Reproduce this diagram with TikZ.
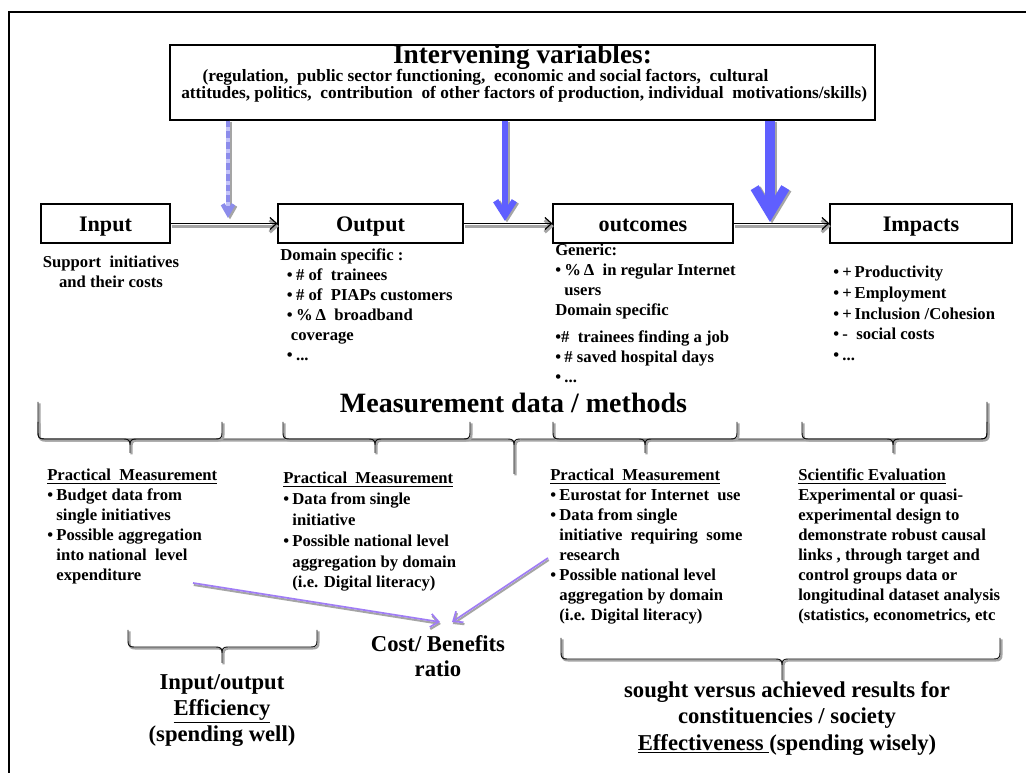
\documentclass[tikz,border=0pt]{standalone}
\usepackage{fontspec}
\setmainfont{Liberation Serif}
\usetikzlibrary{arrows.meta}
\definecolor{ivblue}{RGB}{95,95,255}
\definecolor{dblue}{RGB}{140,140,235}
\definecolor{dblueb}{RGB}{195,195,250}
\definecolor{shgray}{RGB}{165,165,165}
\definecolor{purp}{RGB}{160,125,245}
\newcommand{\bul}{•\hspace{2.5pt}}
\newcommand{\bcont}{\hphantom{•\hspace{2.5pt}}}
\newcommand{\fsz}[2]{\fontsize{#1}{#2}\selectfont\bfseries}
\newcommand{\bracepath}[6]{(#1,#3) -- (#1,#4-6) .. controls (#1,#4-1.5) and (#1+1.5,#4) .. (#1+6,#4) -- (#5-6,#4) .. controls (#5-1.5,#4) and (#5,#4+1.5) .. (#5,#4+6) -- (#5,#6) (#5,#4+6) .. controls (#5,#4+1.5) and (#5+1.5,#4) .. (#5+6,#4) -- (#2-6,#4) .. controls (#2-1.5,#4) and (#2,#4-1.5) .. (#2,#4-6) -- (#2,#3)}
\newcommand{\drawbrace}[6]{\draw[braceshadow] \bracepath{#1}{#2}{#3}{#4}{#5}{#6}; \draw[braceline] \bracepath{#1}{#2}{#3}{#4}{#5}{#6};}
\begin{document}
\begin{tikzpicture}[x=0.75pt,y=-0.75pt,
  box/.style={draw=black, line width=0.8pt, minimum height=29.25pt, inner sep=0pt, font=\fsz{16.6}{20}, text height=11.5pt, text depth=0pt},
  body/.style={inner sep=0pt, anchor=base west, font=\fsz{12.5}{15}},
  big/.style={inner sep=0pt, anchor=base, font=\fsz{17}{19.5}},
  braceshadow/.style={shgray, line width=1.6pt, shift={(1.5,1.5)}},
  braceline/.style={black, line width=0.7pt},
  harrow/.style={black, line width=0.9pt, -{Straight Barb[length=5pt,width=9pt]}},
  harrowsh/.style={shgray, line width=2.4pt, transform canvas={shift={(1pt,-2pt)}}, -{Straight Barb[length=5pt,width=9pt]}},
  vsh/.style={shgray, transform canvas={shift={(1.5pt,-1pt)}}},
  parrow/.style={purp, line width=1.3pt, -{Straight Barb[length=6pt,width=10pt]}},
  psh/.style={shgray, line width=1.5pt, transform canvas={shift={(0.6pt,-1.5pt)}}, -{Straight Barb[length=6pt,width=10pt]}}
]
\useasboundingbox (0,0) rectangle (1026,773);
\fill[white] (0,0) rectangle (1026,773);
\draw[line width=1.9pt] (1030,12) -- (9,12) -- (9,780);

% intervening box
\node[draw, line width=0.8pt, minimum width=528.75pt, minimum height=56.25pt, inner sep=0pt] (iv) at (522.5,82.5) {};
\node[inner sep=0pt, anchor=base, font=\fsz{20.5}{24}] (ivt) at (522.5,64) {Intervening variables:};
\node[inner sep=0pt, anchor=base west, font=\fsz{13}{12}] (ivs) at (181,81.5) {\begin{tabular}[t]{@{}l@{}}\hspace{16pt}(regulation,\ \ public sector functioning,\ \ economic and social factors,\ \ cultural\\ attitudes, politics,\ \ contribution\ \ of other factors of production,\ individual\ \ motivations/skills)\end{tabular}};

% boxes
\node[box, minimum width=96.75pt] (in) at (105.5,223.5) {Input};
\node[box, minimum width=138.75pt] (out) at (370.5,223.5) {Output};
\node[box, minimum width=135pt] (oc) at (643,223.5) {outcomes};
\node[box, minimum width=136.5pt] (im) at (921,223.5) {Impacts};

% horizontal arrows
\draw[harrowsh] (in) -- (out);
\draw[harrow] (in) -- (out);
\draw[harrowsh] (out) -- (oc);
\draw[harrow] (out) -- (oc);
\draw[harrowsh] (oc) -- (im);
\draw[harrow] (oc) -- (im);

% vertical arrows
\coordinate (va) at (228,218);
\coordinate (vb) at (505,221);
\coordinate (vc) at (770,222);
\draw[vsh, line width=3.3pt, -{Straight Barb[length=7pt,width=8pt]}] (iv.south -| va) -- (va);
\draw[dblueb, line width=3.3pt] (iv.south -| va) -- ([yshift=6pt]va);
\draw[dblue, line width=3.3pt, dash pattern=on 5pt off 3pt, -{Straight Barb[length=7pt,width=8pt]}] (iv.south -| va) -- (va);
\draw[vsh, line width=4.5pt, -{Straight Barb[length=11pt,width=14pt]}] (iv.south -| vb) -- (vb);
\draw[ivblue, line width=4.5pt, -{Straight Barb[length=11pt,width=14pt]}] (iv.south -| vb) -- (vb);
\draw[vsh, line width=7pt, -{Straight Barb[length=19pt,width=23pt]}] (iv.south -| vc) -- (vc);
\draw[ivblue, line width=7pt, -{Straight Barb[length=19pt,width=23pt]}] (iv.south -| vc) -- (vc);

% texts under boxes
\node[body, anchor=base] (int) at (111,268) {\begin{tabular}[t]{@{}c@{}}Support\ \ initiatives\\ and their costs\end{tabular}};
\node[body] (outt) at (280,261) {\begin{tabular}[t]{@{}l@{}}Domain specific :\\ \hspace{5pt}\bul\# of\ \ trainees\\ \hspace{5pt}\bul\# of\ \ PIAPs customers\\ \hspace{5pt}\bul\%\,Δ\ \ broadband\\ \hspace{8pt}coverage\\ \hspace{5pt}\bul...\end{tabular}};
\node[body] (oct) at (555,256) {\begin{tabular}[t]{@{}l@{}}Generic:\\ \bul\%\,Δ\ \ in regular Internet\\ \bcont users\\ Domain specific\\[5pt] •\#\ \ trainees finding a job\\ \bul\# saved hospital days\\ \bul...\end{tabular}};
\node[body, font=\fsz{12.5}{15.4}] (imt) at (833,278) {\begin{tabular}[t]{@{}l@{}}\bul+\,Productivity\\ \bul+\,Employment\\ \bul+\,Inclusion /Cohesion\\ \bul-\ \ social costs\\ \bul...\end{tabular}};

% measurement title
\node[inner sep=0pt, anchor=base, font=\fsz{21}{24}] (md) at (513.5,413) {Measurement data / methods};

% braces
\drawbrace{38}{987}{402}{439}{514}{474}
\drawbrace{38}{222}{422}{439}{130}{453}
\drawbrace{283}{470}{422}{439}{375}{453}
\drawbrace{553}{737}{422}{439}{645}{453}
\drawbrace{802}{987}{422}{439}{893}{453}
\drawbrace{128}{317}{630}{647}{222}{663}
\drawbrace{561}{1000}{638}{659}{782}{680}

% measurement columns
\node[body] (c1) at (47,481) {\begin{tabular}[t]{@{}l@{}}\underline{Practical\ \ Measurement}\\ \bul Budget data from\\ \bcont single initiatives\\ \bul Possible aggregation\\ \bcont into national\ \ level\\ \bcont expenditure\end{tabular}};
\node[body, font=\fsz{12.5}{15.6}] (c2) at (283,484) {\begin{tabular}[t]{@{}l@{}}\underline{Practical\ \ Measurement}\\ \bul Data from single\\ \bcont initiative\\ \bul Possible national level\\ \bcont aggregation by domain\\ \bcont (i.e. Digital literacy)\end{tabular}};
\node[body] (c3) at (550,481) {\begin{tabular}[t]{@{}l@{}}\underline{Practical\ \ Measurement}\\ \bul Eurostat for Internet\ \ use\\ \bul Data from single\\ \bcont initiative\ \ requiring\ \ some\\ \bcont research\\ \bul Possible national level\\ \bcont aggregation by domain\\ \bcont (i.e. Digital literacy)\end{tabular}};
\node[body] (c4) at (798,481) {\begin{tabular}[t]{@{}l@{}}\underline{Scientific Evaluation}\\ Experimental or quasi-\\ experimental design to\\ demonstrate robust causal\\ links , through target and\\ control groups data or\\ longitudinal dataset analysis\\ (statistics, econometrics, etc\end{tabular}};

% bottom texts
\node[big, font=\fsz{17}{18.5}] (cb) at (438,652) {\begin{tabular}[t]{@{}c@{}}Cost/ Benefits\\ ratio\end{tabular}};
\node[big] (eff) at (222,690) {\begin{tabular}[t]{@{}c@{}}Input/output\\ \underline{Efficiency}\\ (spending well)\end{tabular}};
\node[big, font=\fsz{17}{19.7}] (efv) at (787,697.5) {\begin{tabular}[t]{@{}c@{}}sought versus achieved results for\\ constituencies / society\\ \underline{Effectiveness\ }(spending wisely)\end{tabular}};

% purple arrows
\coordinate (p1s) at (193,583);
\coordinate (p1e) at (440,622);
\coordinate (p2s) at (548,558);
\coordinate (p2e) at (452,622);
\draw[psh] (p1s) -- (p1e);
\draw[parrow] (p1s) -- (p1e);
\draw[psh] (p2s) -- (p2e);
\draw[parrow] (p2s) -- (p2e);
\end{tikzpicture}
\end{document}
